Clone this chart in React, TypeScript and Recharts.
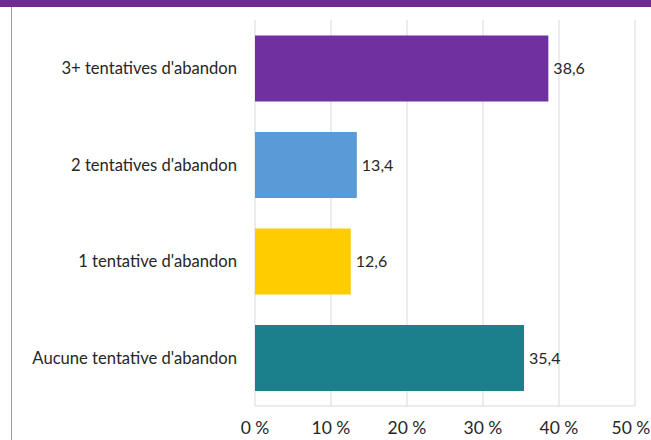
import React from 'react';
import { BarChart, Bar, XAxis, YAxis, CartesianGrid, LabelList, Cell } from 'recharts';

const categories = [
  "3+ tentatives d'abandon",
  "2 tentatives d'abandon",
  "1 tentative d'abandon",
  "Aucune tentative d'abandon",
];
const values = [38.6, 13.4, 12.6, 35.4];
const colors = ['#7030a0', '#5b9bd5', '#ffcc00', '#1b7f8c'];
const xTicks = [0, 10, 20, 30, 40, 50];

const data = categories.map((c, i) => ({ name: c, value: values[i] }));
const FONT = 'Lato, sans-serif';

const XTick = (props: any) => {
  const { x, y, payload } = props;
  const label = `${payload.value} %`;
  const half = 19;
  const cx = Math.min(x, 650 - half);
  return (
    <text x={cx} y={y} dy="0.71em" textAnchor="middle" fill="#262626" fontSize={17.5} fontFamily={FONT}>
      {label}
    </text>
  );
};

export default function App() {
  return (
    <div style={{ position: 'absolute', left: 0, top: 0, width: 651, height: 440, background: '#fff', fontFamily: FONT, overflow: 'hidden' }}>
      <style>{`html,body{margin:0;padding:0;overflow:hidden;}`}</style>
      <BarChart
        width={651}
        height={440}
        data={data}
        layout="vertical"
        margin={{ top: 20, right: 16, bottom: 0, left: 0 }}
        barCategoryGap="16%"
      >
        <CartesianGrid horizontal={false} stroke="#d9d9d9" />
        <XAxis
          type="number"
          domain={[0, 50]}
          ticks={xTicks}
          height={34}
          axisLine={{ stroke: '#d9d9d9' }}
          tickLine={false}
          tickSize={0}
          tickMargin={16}
          tick={<XTick />}
          interval={0}
        />
        <YAxis
          type="category"
          dataKey="name"
          width={255}
          axisLine={false}
          tickLine={false}
          tickSize={0}
          tickMargin={18}
          tick={{ fill: '#262626', fontSize: 16.6, fontFamily: FONT }}
        />
        <Bar dataKey="value" isAnimationActive={false}>
          {data.map((d, i) => (
            <Cell key={d.name} fill={colors[i]} />
          ))}
          <LabelList
            dataKey="value"
            position="right"
            offset={5}
            formatter={(v: number) => v.toFixed(1).replace('.', ',')}
            style={{ fill: '#262626', fontSize: 16, fontFamily: FONT }}
          />
        </Bar>
      </BarChart>
      <div style={{ position: 'absolute', left: 0, top: 0, width: 651, height: 7, background: '#6f2b8f', zIndex: 5 }} />
      <div style={{ position: 'absolute', left: 11, top: 7, width: 1, height: 433, background: '#9a9a9a', zIndex: 5 }} />
    </div>
  );
}
